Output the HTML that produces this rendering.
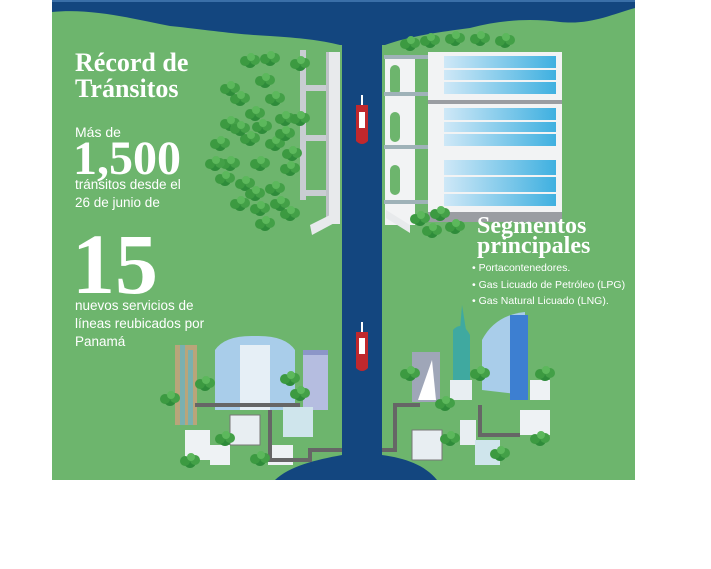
<!DOCTYPE html>
<html><head><meta charset="utf-8"><style>
html,body{margin:0;padding:0;background:#fff;}
svg{display:block}
.t{font-family:"Liberation Serif",serif;font-weight:bold;fill:#fff}
.s{font-family:"Liberation Sans",sans-serif;fill:#fff}
</style></head><body>
<svg width="711" height="569" viewBox="0 0 711 569" xmlns="http://www.w3.org/2000/svg">
<defs>
<linearGradient id="gl" x1="0" x2="1"><stop offset="0" stop-color="#cfe8f7"/><stop offset="1" stop-color="#3fb0e0"/></linearGradient>
<g id="tr"><circle cx="0" cy="0" r="6" fill="#2e8b3a"/><circle cx="5" cy="-2" r="5" fill="#43a047"/><circle cx="-5" cy="-1" r="5" fill="#3c9a41"/><circle cx="1" cy="-5" r="4" fill="#5cb85c"/></g>
</defs>
<rect x="52" y="0" width="583" height="480" fill="#6db56d"/>
<path d="M52,0 H635 V8 C610,15 590,25 560,22 C530,18 500,20 470,28 C440,32 410,36 385,45 H340 C320,40 300,38 270,36 C230,34 210,30 170,26 C130,18 90,8 52,12 Z" fill="#13467f"/>
<rect x="52" y="0" width="583" height="2" fill="#3a6fa8"/>
<path d="M342,40 H382 V455 C405,458 425,465 437,480 H275 C290,466 315,460 342,455 Z" fill="#13467f"/>
<!-- left lock -->
<path d="M300,50 h6 v150 h-6z" fill="#c9cdd2"/>
<rect x="300" y="85" width="30" height="6" fill="#c9cdd2"/>
<rect x="300" y="135" width="30" height="6" fill="#c9cdd2"/>
<rect x="300" y="190" width="30" height="6" fill="#c9cdd2"/>
<rect x="326" y="52" width="14" height="172" fill="#e8eaec"/>
<rect x="326" y="52" width="3" height="172" fill="#bfc3c8"/>
<path d="M310,225 L340,210 V220 L312,235 Z" fill="#e8eaec"/>
<!-- right lock -->
<rect x="385" y="55" width="30" height="170" fill="#f2f3f4"/>
<rect x="390" y="65" width="10" height="30" rx="5" fill="#6db56d"/>
<rect x="390" y="112" width="10" height="30" rx="5" fill="#6db56d"/>
<rect x="390" y="165" width="10" height="30" rx="5" fill="#6db56d"/>
<rect x="384" y="55" width="45" height="4" fill="#9fb2b8"/>
<rect x="384" y="92" width="45" height="4" fill="#9fb2b8"/>
<rect x="384" y="145" width="45" height="4" fill="#9fb2b8"/>
<rect x="384" y="200" width="45" height="4" fill="#9fb2b8"/>
<rect x="428" y="52" width="134" height="48" fill="#f2f3f4"/>
<rect x="428" y="100" width="134" height="8" fill="#9a9da2"/>
<rect x="428" y="104" width="134" height="52" fill="#f2f3f4"/>
<rect x="428" y="156" width="134" height="8" fill="#9a9da2"/>
<rect x="428" y="156" width="134" height="58" fill="#f2f3f4"/>
<rect x="428" y="212" width="134" height="10" fill="#9a9da2"/>
<rect x="444" y="56" width="112" height="38" fill="url(#gl)"/>
<rect x="444" y="108" width="112" height="38" fill="url(#gl)"/>
<rect x="444" y="160" width="112" height="46" fill="url(#gl)"/>
<g fill="#f2f3f4"><rect x="444" y="68" width="112" height="2"/><rect x="444" y="80" width="112" height="2"/><rect x="444" y="120" width="112" height="2"/><rect x="444" y="132" width="112" height="2"/><rect x="444" y="175" width="112" height="2"/><rect x="444" y="192" width="112" height="2"/></g>
<path d="M386,210 L410,225 V233 L386,218Z" fill="#e8eaec"/>
<!-- ships -->
<g><path d="M356,105 h12 v36 q-6,6 -12,0z" fill="#c0282d"/><rect x="359" y="112" width="6" height="16" fill="#fff"/><rect x="361" y="95" width="2" height="10" fill="#fff"/></g>
<g><path d="M356,332 h12 v36 q-6,6 -12,0z" fill="#c0282d"/><rect x="359" y="338" width="6" height="16" fill="#fff"/><rect x="361" y="322" width="2" height="10" fill="#fff"/></g>
<!-- forest -->
<g>
<use href="#tr" x="250" y="62"/><use href="#tr" x="265" y="82"/><use href="#tr" x="240" y="100"/><use href="#tr" x="275" y="100"/><use href="#tr" x="255" y="115"/><use href="#tr" x="230" y="125"/><use href="#tr" x="285" y="120"/><use href="#tr" x="220" y="145"/><use href="#tr" x="250" y="140"/><use href="#tr" x="275" y="145"/><use href="#tr" x="230" y="165"/><use href="#tr" x="260" y="165"/><use href="#tr" x="290" y="170"/><use href="#tr" x="245" y="185"/><use href="#tr" x="275" y="190"/><use href="#tr" x="260" y="210"/><use href="#tr" x="290" y="215"/><use href="#tr" x="300" y="65"/><use href="#tr" x="230" y="90"/><use href="#tr" x="215" y="165"/>
<use href="#tr" x="240" y="130"/><use href="#tr" x="262" y="128"/><use href="#tr" x="285" y="135"/><use href="#tr" x="225" y="180"/><use href="#tr" x="255" y="195"/><use href="#tr" x="280" y="205"/><use href="#tr" x="265" y="225"/><use href="#tr" x="240" y="205"/><use href="#tr" x="292" y="155"/><use href="#tr" x="270" y="60"/><use href="#tr" x="300" y="120"/>
<use href="#tr" x="410" y="45"/><use href="#tr" x="430" y="42"/><use href="#tr" x="455" y="40"/><use href="#tr" x="480" y="40"/><use href="#tr" x="505" y="42"/><use href="#tr" x="420" y="220"/><use href="#tr" x="440" y="215"/><use href="#tr" x="455" y="228"/><use href="#tr" x="432" y="232"/>
</g>
<!-- left city -->
<rect x="175" y="345" width="22" height="80" fill="#b9a57a"/><rect x="180" y="345" width="5" height="80" fill="#7ab0b0"/><rect x="188" y="350" width="5" height="75" fill="#7ab0b0"/>
<path d="M215,350 Q225,335 255,336 Q285,335 295,350 V410 H215Z" fill="#a9cdea"/>
<rect x="240" y="345" width="30" height="65" fill="#e6eff6"/>
<rect x="303" y="350" width="25" height="60" fill="#b5bde0"/><rect x="303" y="350" width="25" height="5" fill="#8c96c8"/>
<rect x="230" y="415" width="30" height="30" fill="#e8eef2" stroke="#777" stroke-width="1"/>
<rect x="283" y="407" width="30" height="30" fill="#cfe5ec"/>
<rect x="185" y="430" width="25" height="30" fill="#eef2f4"/><rect x="210" y="445" width="20" height="20" fill="#eef2f4"/><rect x="268" y="445" width="25" height="20" fill="#eef2f4"/>
<path d="M195,405 H300 M270,410 V460 H310 V450 H342" stroke="#666" stroke-width="4" fill="none"/>
<g><use href="#tr" x="205" y="385"/><use href="#tr" x="170" y="400"/><use href="#tr" x="290" y="380"/><use href="#tr" x="300" y="395"/><use href="#tr" x="225" y="440"/><use href="#tr" x="190" y="462"/><use href="#tr" x="260" y="460"/></g>
<!-- right city -->
<path d="M460,330 L462,305 L466,330 V390 H456Z" fill="#3fa9a0"/><path d="M453,330 Q462,320 470,335 V380 H453Z" fill="#3fa9a0"/>
<path d="M482,390 V340 Q495,315 525,312 V395Z" fill="#a9cdea"/><rect x="510" y="315" width="18" height="85" fill="#3d7fd1"/>
<rect x="412" y="352" width="28" height="50" fill="#9fa6b8"/>
<path d="M418,400 L432,360 L436,400Z" fill="#fff"/>
<rect x="450" y="380" width="22" height="20" fill="#e8eef2"/>
<rect x="412" y="430" width="30" height="30" fill="#e8eef2" stroke="#777" stroke-width="1"/>
<rect x="460" y="420" width="16" height="25" fill="#e8eef2"/><rect x="475" y="440" width="25" height="25" fill="#cfe5ec"/>
<rect x="520" y="410" width="30" height="25" fill="#eef2f4"/><rect x="530" y="380" width="20" height="20" fill="#eef2f4"/>
<path d="M382,450 H395 V405 H420 M480,405 V435 H520" stroke="#666" stroke-width="4" fill="none"/>
<g><use href="#tr" x="410" y="375"/><use href="#tr" x="445" y="405"/><use href="#tr" x="480" y="375"/><use href="#tr" x="545" y="375"/><use href="#tr" x="500" y="455"/><use href="#tr" x="450" y="440"/><use href="#tr" x="540" y="440"/></g>
<!-- text -->
<text class="t" x="75" y="71" font-size="26">Récord de</text>
<text class="t" x="75" y="97" font-size="26">Tránsitos</text>
<text class="s" x="75" y="137" font-size="14">Más de</text>
<text class="t" x="73" y="174" font-size="48">1,500</text>
<text class="s" x="75" y="189" font-size="13.5">tránsitos desde el</text>
<text class="s" x="75" y="207" font-size="13.5">26 de junio de</text>
<text class="t" x="72" y="293" font-size="86">15</text>
<text class="s" x="75" y="310" font-size="13.5">nuevos servicios de</text>
<text class="s" x="75" y="328" font-size="13.5">líneas reubicados por</text>
<text class="s" x="75" y="346" font-size="13.5">Panamá</text>
<text class="t" x="477" y="233" font-size="24">Segmentos</text>
<text class="t" x="477" y="253" font-size="24">principales</text>
<text class="s" x="472" y="271" font-size="10.5">• Portacontenedores.</text>
<text class="s" x="472" y="288" font-size="10.5">• Gas Licuado de Petróleo (LPG)</text>
<text class="s" x="472" y="304" font-size="10.5">• Gas Natural Licuado (LNG).</text>
</svg>
</body></html>
